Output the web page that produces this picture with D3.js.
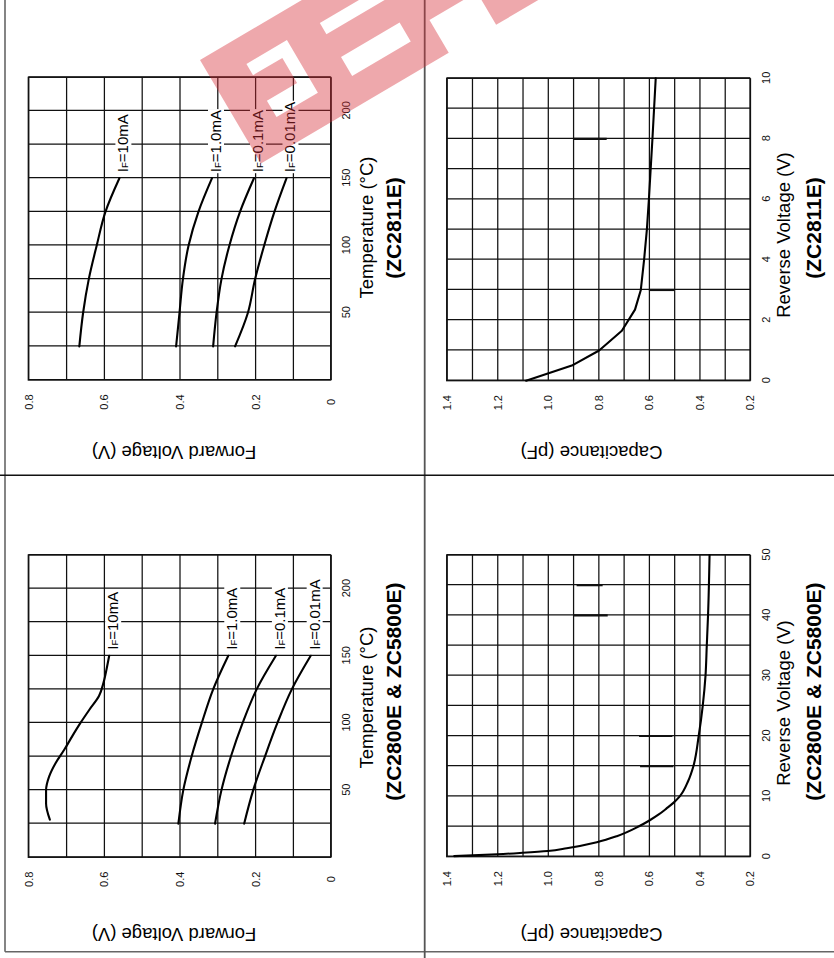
<!DOCTYPE html>
<html><head><meta charset="utf-8">
<script src="https://cdn.jsdelivr.net/npm/d3@7"></script>
<style>body{margin:0;background:#fff}svg{display:block}</style>
</head><body>
<script>
// ---------------- DATA ----------------
const fvTemps = [25, 50, 75, 100, 125, 150];
const currentLabels = ["10mA", "1.0mA", "0.1mA", "0.01mA"];

// ZC2811E forward voltage (V) vs temperature (°C)
const zc2811eFv10mA  = [0.665, 0.655, 0.640, 0.619, 0.596, 0.559];
const zc2811eFv1mA   = [0.409, 0.400, 0.391, 0.376, 0.350, 0.314];
const zc2811eFv01mA  = [0.311, 0.302, 0.289, 0.268, 0.240, 0.203];
const zc2811eFv001mA = [0.253, 0.219, 0.200, 0.176, 0.149, 0.117];

// ZC2800E & ZC5800E forward voltage (V) vs temperature (°C)
const zc2800eTemps10mA = [28, 40, 50, 60, 70, 80, 90, 100, 110, 120, 130, 140, 150];
const zc2800eFv10mA  = [0.743, 0.753, 0.753, 0.745, 0.728, 0.705, 0.684, 0.662, 0.638, 0.613, 0.601, 0.593, 0.586];
const zc2800eFv1mA   = [0.403, 0.390, 0.368, 0.341, 0.311, 0.271];
const zc2800eFv01mA  = [0.306, 0.289, 0.264, 0.233, 0.196, 0.145];
const zc2800eFv001mA = [0.229, 0.205, 0.174, 0.141, 0.103, 0.053];

// Capacitance (pF) vs reverse voltage (V)
const zc2811eCapV = [0, 0.5, 1.0, 1.65, 2.35, 3, 4, 5, 6, 8, 10];
const zc2811eCapC = [1.086, 0.905, 0.797, 0.707, 0.655, 0.632, 0.619, 0.608, 0.600, 0.586, 0.573];
const zc2800eCapV = [0.1, 0.4, 0.65, 0.95, 1.4, 2.4, 3.4, 5, 6, 7, 8, 9, 10, 12.5, 15, 20, 25, 30, 35, 40, 50];
const zc2800eCapC = [1.37, 1.20, 1.10, 1.00, 0.925, 0.806, 0.727, 0.641, 0.598, 0.561, 0.530, 0.501, 0.478, 0.445, 0.424, 0.403, 0.387, 0.376, 0.371, 0.366, 0.360];

// short heavier grid segments present in the original scans: [V, C from, C to]
const zc2811eCapMarks = [[8, 0.9, 0.767], [3, 0.6, 0.5]];
const zc2800eCapMarks = [[45, 0.886, 0.783], [40, 0.9, 0.763], [20, 0.639, 0.507], [15, 0.635, 0.503]];

// tick labels
const fvXTicks = [50, 100, 150, 200];
const fvYTicks = [0, 0.2, 0.4, 0.6, 0.8];
const capYTicks = [0.2, 0.4, 0.6, 0.8, 1.0, 1.2, 1.4];
const zc2811eCapXTicks = [0, 2, 4, 6, 8, 10];
const zc2800eCapXTicks = [0, 10, 20, 30, 40, 50];

// ---------------- DRAWING ----------------
const W = 834, H = 958;
const FONT = "'Liberation Sans', Arial, Helvetica, sans-serif";
const svg = d3.select("body").append("svg").attr("width", W).attr("height", H)
  .style("font-family", FONT);

// the whole datasheet page is rotated 90° counter-clockwise
const page = svg.append("g").attr("transform", `translate(0,${H}) rotate(-90)`);

// page frame (page coords: x along 0..958, y along 0..834)
const frame = page.append("g").attr("fill", "none");
frame.append("line").attr("x1", 6.3).attr("x2", H).attr("y1", 5).attr("y2", 5).attr("stroke", "#666").attr("stroke-width", 1.6);
frame.append("line").attr("x1", 6.3).attr("x2", 6.3).attr("y1", 5).attr("y2", W).attr("stroke", "#666").attr("stroke-width", 1.6);
frame.append("line").attr("x1", 0).attr("x2", H).attr("y1", 424.7).attr("y2", 424.7).attr("stroke", "#555").attr("stroke-width", 1.8);
frame.append("line").attr("x1", 482.7).attr("x2", 482.7).attr("y1", 0).attr("y2", W).attr("stroke", "#111").attr("stroke-width", 1.4);

const panels = [
  { // ZC2800E forward voltage
    left: 100.7, top: 28.3, width: 302.3, height: 302.4,
    xDomain: [0, 225], yDomain: [0, 0.8], xStep: 25, yStep: 0.1,
    xTicks: fvXTicks, yTicks: fvYTicks, yFmt: d => d === 0 ? "0" : d.toFixed(1),
    series: [
      { label: currentLabels[0], pts: zc2800eTemps10mA.map((t, j) => [t, zc2800eFv10mA[j]]) },
      { label: currentLabels[1], pts: fvTemps.map((t, j) => [t, zc2800eFv1mA[j]]) },
      { label: currentLabels[2], pts: fvTemps.map((t, j) => [t, zc2800eFv01mA[j]]) },
      { label: currentLabels[3], pts: fvTemps.map((t, j) => [t, zc2800eFv001mA[j]]) }
    ],
    curve: d3.curveMonotoneX, marks: [],
    xTitle: "Temperature (°C)", xTitleCx: 260.5, xTitleY: 373,
    bold: "(ZC2800E & ZC5800E)", boldCx: 266.5, boldY: 401,
    yTitle: "Forward Voltage (V)", yTitleX: 30, yTitleCy: 174
  },
  { // ZC2811E forward voltage
    left: 578, top: 28.3, width: 302.7, height: 302.4,
    xDomain: [0, 225], yDomain: [0, 0.8], xStep: 25, yStep: 0.1,
    xTicks: fvXTicks, yTicks: fvYTicks, yFmt: d => d === 0 ? "0" : d.toFixed(1),
    series: [zc2811eFv10mA, zc2811eFv1mA, zc2811eFv01mA, zc2811eFv001mA].map((a, i) => ({
      label: currentLabels[i], pts: fvTemps.map((t, j) => [t, a[j]]) })),
    curve: d3.curveMonotoneX, marks: [],
    xTitle: "Temperature (°C)", xTitleCx: 730.5, xTitleY: 373,
    bold: "(ZC2811E)", boldCx: 730, boldY: 401,
    yTitle: "Forward Voltage (V)", yTitleX: 512, yTitleCy: 174
  },
  { // ZC2800E capacitance
    left: 101.3, top: 446.7, width: 301.7, height: 303.3,
    xDomain: [0, 50], yDomain: [0.2, 1.4], xStep: 5, yStep: 0.1,
    xTicks: zc2800eCapXTicks, yTicks: capYTicks, yFmt: d => d.toFixed(1),
    series: [{ label: null, pts: zc2800eCapV.map((v, j) => [v, zc2800eCapC[j]]) }],
    curve: d3.curveMonotoneX, marks: zc2800eCapMarks,
    xTitle: "Reverse Voltage (V)", xTitleCx: 255, xTitleY: 790,
    bold: "(ZC2800E & ZC5800E)", boldCx: 266.5, boldY: 820.6,
    yTitle: "Capacitance (pF)", yTitleX: 30, yTitleCy: 591.5
  },
  { // ZC2811E capacitance
    left: 577.3, top: 446.7, width: 302.4, height: 303.3,
    xDomain: [0, 10], yDomain: [0.2, 1.4], xStep: 1, yStep: 0.1,
    xTicks: zc2811eCapXTicks, yTicks: capYTicks, yFmt: d => d.toFixed(1),
    series: [{ label: null, pts: zc2811eCapV.map((v, j) => [v, zc2811eCapC[j]]) }],
    curve: d3.curveLinear, marks: zc2811eCapMarks,
    xTitle: "Reverse Voltage (V)", xTitleCx: 723, xTitleY: 790,
    bold: "(ZC2811E)", boldCx: 730, boldY: 820.6,
    yTitle: "Capacitance (pF)", yTitleX: 512, yTitleCy: 591.5
  }
];

function steps(domain, step) {
  const n = Math.round((domain[1] - domain[0]) / step);
  return d3.range(n + 1).map(i => +(domain[0] + i * step).toFixed(6));
}

panels.forEach(p => {
  const g = page.append("g");
  const x = d3.scaleLinear().domain(p.xDomain).range([p.left, p.left + p.width]);
  const y = d3.scaleLinear().domain(p.yDomain).range([p.top + p.height, p.top]);
  const bottom = p.top + p.height;

  // grid via axes
  const gx = g.append("g").attr("transform", `translate(0,${bottom})`)
    .call(d3.axisBottom(x).tickValues(steps(p.xDomain, p.xStep)).tickSize(-p.height).tickFormat(""));
  const gy = g.append("g").attr("transform", `translate(${p.left},0)`)
    .call(d3.axisLeft(y).tickValues(steps(p.yDomain, p.yStep)).tickSize(-p.width).tickFormat(""));
  [gx, gy].forEach(a => {
    a.select(".domain").remove();
    a.selectAll("line").attr("stroke", "#111").attr("stroke-width", 1.25);
  });
  g.append("rect").attr("x", p.left).attr("y", p.top).attr("width", p.width).attr("height", p.height)
    .attr("fill", "none").attr("stroke", "#111").attr("stroke-width", 1.3);

  // heavier scan segments
  g.selectAll(".mk").data(p.marks).join("line")
    .attr("x1", d => x(d[0])).attr("x2", d => x(d[0]))
    .attr("y1", d => y(d[1])).attr("y2", d => y(d[2]))
    .attr("stroke", "#111").attr("stroke-width", 2.2);

  // tick labels
  const ax = g.append("g").attr("transform", `translate(0,${bottom})`)
    .call(d3.axisBottom(x).tickValues(p.xTicks).tickSize(0).tickFormat(d3.format("d")));
  ax.select(".domain").remove();
  ax.selectAll("text").attr("y", 19.5).attr("dy", 0).attr("font-size", 11).attr("font-family", FONT).attr("fill", "#111");
  const ay = g.append("g").attr("transform", `translate(${p.left},0)`)
    .call(d3.axisLeft(y).tickValues(p.yTicks).tickSize(0).tickFormat(p.yFmt));
  ay.select(".domain").remove();
  ay.selectAll("text").attr("x", -22).attr("dy", "0.36em").attr("text-anchor", "middle")
    .attr("font-size", 11).attr("font-family", FONT).attr("fill", "#111");

  // curves
  const line = d3.line().x(d => x(d[0])).y(d => y(d[1])).curve(p.curve);
  g.selectAll(".curve").data(p.series).join("path")
    .attr("d", d => line(d.pts)).attr("fill", "none").attr("stroke", "#000")
    .attr("stroke-width", 2.1).attr("stroke-linejoin", "round").attr("stroke-linecap", "round");

  // curve labels with white knock-out
  p.series.filter(s => s.label).forEach(s => {
    const end = s.pts[s.pts.length - 1];
    const lg = g.append("g");
    const t = lg.append("text").attr("x", x(end[0]) + 6).attr("y", y(end[1]) + 9)
      .attr("font-size", 15).attr("fill", "#000");
    t.append("tspan").text("I");
    t.append("tspan").attr("font-size", 9.5).text("F");
    t.append("tspan").text("=" + s.label);
    const bb = t.node().getBBox();
    lg.insert("rect", "text").attr("x", bb.x - 1).attr("y", bb.y + 1).attr("width", bb.width + 2)
      .attr("height", bb.height - 1).attr("fill", "#fff");
  });

  // axis titles
  g.append("text").attr("x", p.xTitleCx).attr("y", p.xTitleY).attr("text-anchor", "middle")
    .attr("font-size", 18.5).attr("fill", "#000").text(p.xTitle);
  g.append("text").attr("x", p.boldCx).attr("y", p.boldY).attr("text-anchor", "middle")
    .attr("font-size", 21).attr("font-weight", "bold").attr("fill", "#000").text(p.bold);
  g.append("text").attr("transform", `translate(${p.yTitleX},${p.yTitleCy}) rotate(-90)`)
    .attr("text-anchor", "middle").attr("font-size", 18.5).attr("fill", "#000").text(p.yTitle);
});

// ---------------- watermark (tilted logo band, local coords) ----------------
const wmOuter = [[0,0],[345,0],[345,120],[273,120],[273,82],[218,82],[218,120],[0,120]];
const wmHoles = [
  [[38,27],[85,27],[85,88],[37,88],[37,69],[72,69],[72,40],[38,40]],
  [[122,29],[240,29],[240,42],[122,42]],
  [[123,69],[191,69],[191,91],[123,91]]
];
const poly = pts => "M" + pts.map(p => p.join(",")).join("L") + "Z";
svg.append("g").attr("transform", "translate(200,60) rotate(-30.5)")
  .append("path").attr("fill", "#d62f3a").attr("fill-opacity", 0.42).attr("fill-rule", "evenodd")
  .attr("d", poly(wmOuter) + wmHoles.map(poly).join(""));
</script>
</body></html>
